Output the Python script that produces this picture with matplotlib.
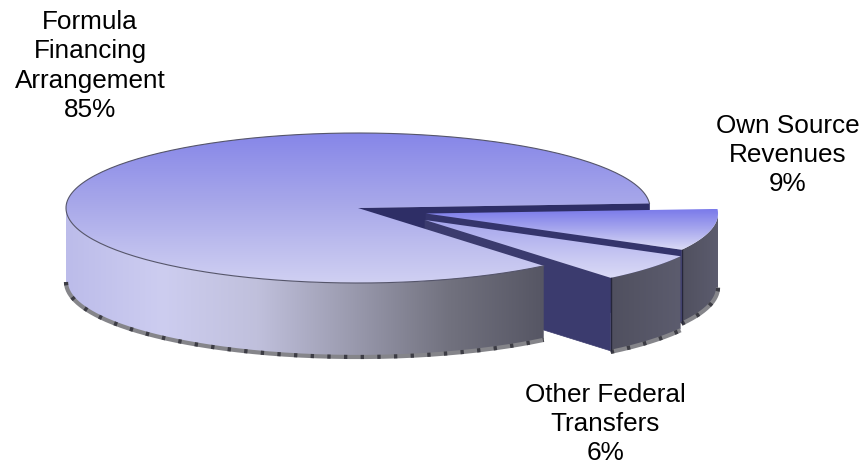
import numpy as np
import matplotlib
matplotlib.use("Agg")
import matplotlib.pyplot as plt
from matplotlib.colors import LinearSegmentedColormap
from matplotlib.patches import Polygon

# shares of the pie, same order as the labels
labels = ["Formula\nFinancing\nArrangement", "Other Federal\nTransfers", "Own Source\nRevenues"]
shares = [85, 6, 9]
label_x = [90, 605, 788]
label_y = [66, 424, 155]

# pie geometry, in pixels of the picture
cx, cy = 358, 208
rx, ry = 292, 75
depth = 73
start = 3.5
offsets = [(0, 0), (67, 12), (68, 5.5)]

plt.rcParams['font.family'] = ['Liberation Sans', 'DejaVu Sans']

fig = plt.figure(figsize=(8.64, 4.66), dpi=100)
ax = fig.add_axes([0, 0, 1, 1])
ax.set_xlim(0, 864)
ax.set_ylim(466, 0)
ax.axis('off')

angles = start + np.cumsum([0] + shares) * 3.6


def arc(a0, a1, ox, oy, dz=0):
    t = np.radians(np.linspace(a0, a1, 200))
    return np.column_stack([cx + ox + rx * np.cos(t), cy + oy + dz - ry * np.sin(t)])


def grad_fill(pts, stops, horizontal=False, z=1):
    cmap = LinearSegmentedColormap.from_list("g", stops)
    x0, x1 = pts[:, 0].min(), pts[:, 0].max()
    y0, y1 = pts[:, 1].min(), pts[:, 1].max()
    g = np.linspace(0, 1, 256)
    g = g.reshape(1, -1) if horizontal else g.reshape(-1, 1)
    im = ax.imshow(g, cmap=cmap, extent=[x0, x1, y1, y0], aspect='auto', zorder=z,
                   vmin=0, vmax=1, interpolation='bilinear')
    poly = Polygon(pts, closed=True, transform=ax.transData, fc='none', ec='none')
    ax.add_patch(poly)
    im.set_clip_path(poly)


def wall(a, ox, oy, color, z):
    apex = np.array([cx + ox, cy + oy])
    rim = arc(a, a, ox, oy)[0]
    pts = np.array([apex, rim, rim + [0, depth], apex + [0, depth]])
    ax.add_patch(Polygon(pts, closed=True, fc=color, ec=color, lw=0.5, zorder=z))


def front(a0, a1, ox, oy, stops, z):
    top = arc(a0, a1, ox, oy)
    low = arc(a0, a1, ox, oy, depth)
    pts = np.vstack([top, low[::-1]])
    grad_fill(pts, stops, horizontal=True, z=z)
    # rough grey lower rim, like the scaled-down original
    ax.plot(low[:, 0], low[:, 1] + 1, color='#85858a', lw=3, zorder=z, solid_capstyle='butt')
    ax.plot(low[:, 0], low[:, 1] + 1, color='#3c3c44', lw=3, ls=(0, (0.8, 3.2)), zorder=z)


def top_face(a0, a1, ox, oy, stops, z):
    apex = np.array([[cx + ox, cy + oy]])
    pts = np.vstack([apex, arc(a0, a1, ox, oy)])
    grad_fill(pts, stops, z=z)


def seam(a, ox, oy, z):
    rim = arc(a, a, ox, oy)[0]
    ax.plot([rim[0], rim[0]], [rim[1], rim[1] + depth], color='#26263a', lw=1, zorder=z)


# main slice cut face sits behind everything
wall(angles[0], 0, 0, '#2e2e66', 1)

# own source revenues, back wedge
a0, a1 = angles[2], angles[3]
ox, oy = offsets[2]
wall(a0, ox, oy, '#34346c', 2)
front(a0, 360, ox, oy, ['#50505f', '#5c5c6e'], 2)
top_face(a0, a1, ox, oy, ['#7a7aea', '#a8a8ee', '#dcdcf6'], 3)
seam(a0, ox, oy, 3)

# other federal transfers
a0, a1 = angles[1], angles[2]
ox, oy = offsets[1]
wall(a0, ox, oy, '#3b3b6e', 4)
front(a0, a1, ox, oy, ['#50505f', '#5c5c6e'], 4)
top_face(a0, a1, ox, oy, ['#a4a4ec', '#dcdcf6'], 5)
seam(a0, ox, oy, 5)

# main slice, drawn last so it hides the cut wall of the next wedge
a0, a1 = angles[0], angles[1]
ox, oy = offsets[0]
front(180, a1, ox, oy, ['#bcbcea', '#cdcdf0', '#c0c0dc', '#9a9aae', '#72727f', '#565664'], 6)
top_face(a0, a1, ox, oy, ['#8686e8', '#aaaaea', '#d0d0f2'], 7)
edge = arc(a0, a1, ox, oy)
ax.plot(edge[:, 0], edge[:, 1], color='#55556a', lw=0.8, zorder=8)

for name, share, x, y in zip(labels, shares, label_x, label_y):
    ax.text(x, y, f"{name}\n{share}%", ha='center', va='center', fontsize=18.8,
            linespacing=1.27, color='black', zorder=10)

fig.savefig("out.png", dpi=100)
